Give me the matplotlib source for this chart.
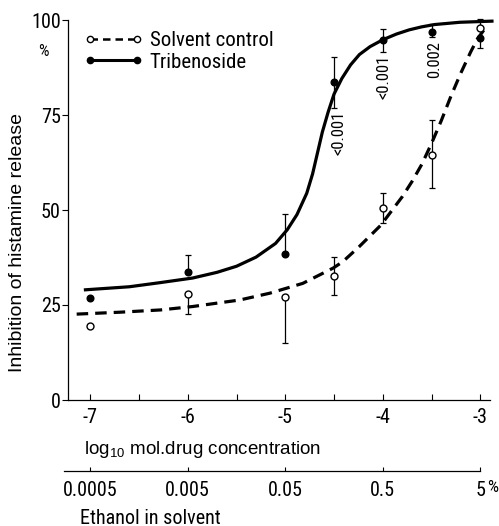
import matplotlib
matplotlib.use("Agg")
import matplotlib.pyplot as plt
from matplotlib import font_manager
from matplotlib.lines import Line2D

# ---------------- data ----------------
conc_log = [-7, -6, -5, -4.5, -4, -3.5, -3]

solvent = [19.5, 27.9, 27.1, 32.7, 50.5, 64.5, 97.9]
solvent_lo = [0, 5.3, 12.0, 5.0, 4.0, 8.6, 0]
solvent_hi = [0, 0, 0, 5.0, 4.0, 9.2, 2.4]

triben = [26.8, 33.7, 38.4, 83.8, 94.7, 96.9, 95.3]
triben_lo = [0, 0, 0, 7.0, 3.0, 1.3, 2.7]
triben_hi = [0, 4.5, 10.5, 6.5, 2.9, 2.0, 0]

# fitted curves
solid_x = [-7.05, -6.6, -6.28, -5.95, -5.7, -5.5, -5.3, -5.1, -4.98, -4.88, -4.78,
           -4.72, -4.67, -4.62, -4.56, -4.5, -4.42, -4.33, -4.24, -4.13, -4.0,
           -3.86, -3.73, -3.6, -3.47, -3.21, -2.88]
solid_y = [29.0, 29.8, 30.9, 32.1, 33.6, 35.2, 37.6, 41.2, 44.8, 48.8, 54.4,
           59.5, 65.0, 70.5, 75.8, 80.5, 84.6, 88.2, 90.9, 93.0, 94.8,
           96.3, 97.4, 98.2, 98.8, 99.4, 99.7]
dash_x = [-7.14, -6.7, -6.28, -5.95, -5.67, -5.47, -5.16, -4.82, -4.51, -4.41, -4.24,
          -4.02, -3.8, -3.7, -3.6, -3.5, -3.4, -3.3, -3.2, -3.1, -3.03, -2.93]
dash_y = [22.6, 23.1, 23.7, 24.6, 25.6, 26.3, 28.1, 30.7, 34.7, 36.4, 40.4,
          46.0, 53.5, 57.5, 62.0, 67.5, 73.5, 80.0, 86.0, 91.5, 95.0, 98.5]

p_x = [-4.45, -3.99, -3.47]
p_y = [70.3, 85.0, 89.7]
p_labels = ["<0.001", "<0.001", "0.002"]

x_ticks = [-7, -6, -5, -4, -3]
x_ticklabels = ["-7", "-6", "-5", "-4", "-3"]
x_minor = [-6.5, -5.5, -4.5, -3.5]
y_ticks = [0, 25, 50, 75, 100]
y_ticklabels = ["0", "25", "50", "75", "100"]
eth_ticklabels = ["0.0005", "0.005", "0.05", "0.5", "5"]

series_names = ["Solvent control", "Tribenoside"]

# ---------------- fonts ----------------
names = {f.name for f in font_manager.fontManager.ttflist}
NORMAL = "Liberation Sans"
NARROW = None
for cand in ["Liberation Sans Narrow", "Arial Narrow", "Roboto Condensed",
             "Noto Sans Condensed", "Open Sans Condensed", "DejaVu Sans Condensed"]:
    if cand in names:
        NARROW = cand
        break
if NARROW is None:
    NARROW = NORMAL
    NS = 0.84   # shrink sizes so widths match the condensed original
else:
    NS = 1.0
plt.rcParams["font.family"] = [NARROW, "DejaVu Sans"]
plt.rcParams["mathtext.fontset"] = "custom"
plt.rcParams["mathtext.rm"] = NORMAL
plt.rcParams["mathtext.it"] = NORMAL

W, H = 499, 526
fig = plt.figure(figsize=(W / 100, H / 100), dpi=100)
fig.patch.set_facecolor("white")

XL = (-7.27, -2.9)
ax = fig.add_axes([64 / W, 126 / H, 426 / W, 380 / H])
ax.set_xlim(*XL)
ax.set_ylim(0, 100)
ax.patch.set_visible(False)
for s in ["top", "right"]:
    ax.spines[s].set_visible(False)
ax.spines["left"].set_position(("data", -7.225))
ax.spines["bottom"].set_bounds(-7.225, -2.9)
ax.spines["left"].set_linewidth(0.9)
ax.spines["bottom"].set_linewidth(0.9)

ax.set_xticks(x_ticks)
ax.set_xticklabels(x_ticklabels)
ax.set_xticks(x_minor, minor=True)
ax.tick_params(axis="x", which="both", direction="in", length=4, width=0.8,
               pad=6, labelsize=14.5 * NS)
ax.set_yticks(y_ticks)
ax.set_yticklabels(y_ticklabels)
ax.tick_params(axis="y", direction="out", length=4, width=0.8, pad=1.5,
               labelsize=14.5 * NS)

# curves
ax.plot(solid_x, solid_y, color="black", lw=2.3, solid_joinstyle="round", clip_on=False)
ax.plot(dash_x, dash_y, color="black", lw=2.3, ls=(0, (3.6, 2.2)), clip_on=False)

# error bars + points
ax.errorbar(conc_log, solvent, yerr=[solvent_lo, solvent_hi], fmt="none",
            ecolor="black", elinewidth=0.9, capsize=2.5, capthick=0.9, clip_on=False)
ax.errorbar(conc_log, triben, yerr=[triben_lo, triben_hi], fmt="none",
            ecolor="black", elinewidth=0.9, capsize=2.5, capthick=0.9, clip_on=False)
ax.plot(conc_log, solvent, ls="none", marker="o", ms=5, mfc="white", mec="black",
        mew=1.0, clip_on=False, zorder=5)
ax.plot(conc_log, triben, ls="none", marker="o", ms=4.8, mfc="black", mec="black",
        clip_on=False, zorder=5)

for x, y, t in zip(p_x, p_y, p_labels):
    ax.text(x, y, t, rotation=90, ha="center", va="center", fontsize=12 * NS)

# legend
handles = [
    Line2D([], [], color="black", lw=1.8, ls=(0, (3, 2)), marker="o", ms=4.5,
           mfc="white", mec="black"),
    Line2D([], [], color="black", lw=2.2, marker="o", ms=4.5, mfc="black", mec="black"),
]
ax.legend(handles, series_names, numpoints=2, frameon=False, fontsize=15 * NS,
          loc="upper left", bbox_to_anchor=(84 / W, 1 - 31 / H),
          bbox_transform=fig.transFigure, borderaxespad=0, borderpad=0,
          handlelength=2.85 / NS, handletextpad=0.3, labelspacing=0.12)

# ethanol secondary scale
ax2 = fig.add_axes([64 / W, 1 - 471 / H, 426 / W, 0.0001])
ax2.set_xlim(*XL)
ax2.patch.set_visible(False)
for s in ["top", "right", "left"]:
    ax2.spines[s].set_visible(False)
ax2.spines["bottom"].set_bounds(-7.27, -3.0)
ax2.spines["bottom"].set_linewidth(0.9)
ax2.set_yticks([])
ax2.set_xticks(x_ticks)
ax2.set_xticklabels(eth_ticklabels)
ax2.tick_params(axis="x", direction="in", length=3, width=0.8, pad=7,
                labelsize=14.5 * NS)

# texts
fig.text(18 / W, 1 - 243 / H, "Inhibition of histamine release", rotation=90,
         ha="center", va="center", fontsize=14, family=NORMAL)
fig.text(43 / W, 1 - 52 / H, "%", ha="center", va="center", fontsize=12 * NS)
fig.text(84 / W, 1 - 450 / H, r"log$_{\mathrm{10}}$ mol.drug concentration",
         ha="left", va="center", fontsize=13.5, family=NORMAL)
fig.text(493 / W, 1 - 487 / H, "%", ha="center", va="center", fontsize=12.5 * NS)
fig.text(80 / W, 1 - 518 / H, "Ethanol in solvent", ha="left", va="center",
         fontsize=14.5 * NS)

fig.savefig("out.png", dpi=100, facecolor="white")
